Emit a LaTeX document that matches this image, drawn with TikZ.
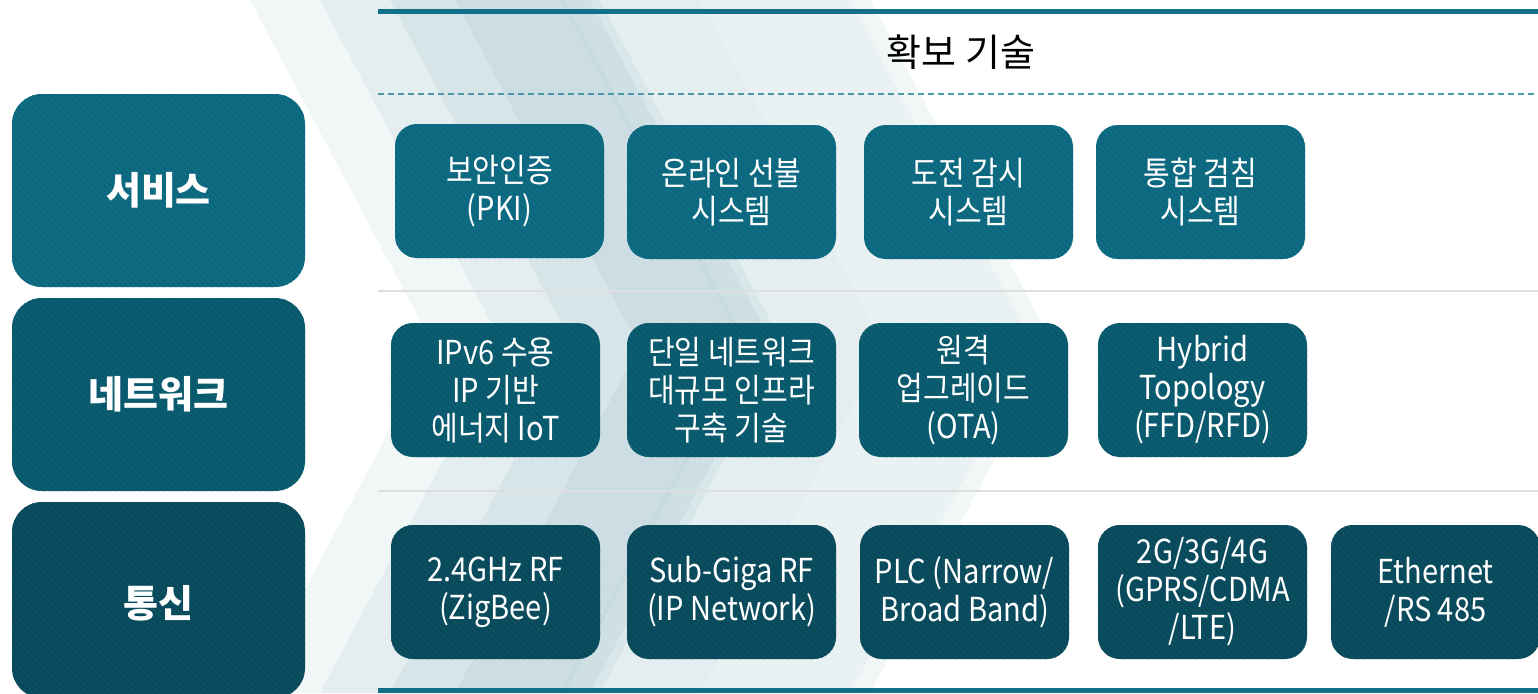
\documentclass[tikz,border=0pt]{standalone}
\usepackage{fontspec}
\setmainfont{Noto Sans CJK KR}
\newfontfamily\krn[FakeStretch=0.88]{Noto Sans CJK KR}
\usetikzlibrary{patterns}
\definecolor{topline}{HTML}{10708A}
\definecolor{dashc}{HTML}{4A98A8}
\definecolor{sepc}{HTML}{DEDEDE}
\definecolor{rowA}{HTML}{0E6C84}
\definecolor{rowAd}{HTML}{0C6277}
\definecolor{rowB}{HTML}{0B5D71}
\definecolor{rowBd}{HTML}{0A5366}
\definecolor{rowC}{HTML}{0A4E5F}
\definecolor{rowCd}{HTML}{084556}
\definecolor{stripe}{HTML}{B3CED6}
\newcommand\chevron[3]{\fill[stripe,opacity=#3] (#1,0) -- ({#1+#2},0) -- ({#1+#2+184},346.5) -- ({#1+#2},693) -- (#1,693) -- ({#1+184},346.5) -- cycle;}
\tikzset{
  catbox/.style={rounded corners=15pt, minimum width=146.5pt, minimum height=96.5pt,
    text=white, inner sep=0pt, font=\bfseries\fontsize{19pt}{23pt}\selectfont},
  techbox/.style={rounded corners=11pt, minimum width=104.5pt, minimum height=67pt,
    text=white, align=center, inner sep=0pt, font=\krn\fontsize{16.5pt}{19pt}\selectfont},
  rowa/.style={fill=rowA, postaction={pattern=north west lines, pattern color=rowAd}},
  rowb/.style={fill=rowB, postaction={pattern=north west lines, pattern color=rowBd}},
  rowc/.style={fill=rowC, postaction={pattern=north west lines, pattern color=rowCd}},
}
\begin{document}
\begin{tikzpicture}[x=0.5pt,y=-0.5pt]
\useasboundingbox (0,0) rectangle (1538,693);
\fill[white] (0,0) rectangle (1538,693);
% background chevrons
\chevron{250}{620}{0.18}
\chevron{320}{380}{0.2}
\chevron{390}{200}{0.25}
\chevron{455}{110}{0.3}
\chevron{560}{40}{0.2}
\chevron{700}{150}{0.12}
% header lines
\draw[topline, line width=2.5pt] (378,11) -- (1545,11);
\node[font=\fontsize{19pt}{23pt}\selectfont, text=black] (hdr) at (961,52) {확보 기술};
\draw[dashc, line width=0.7pt, dash pattern=on 3pt off 2pt] (378,94) -- (1545,94);
\draw[sepc, line width=1pt] (378,291) -- (1545,291);
\draw[sepc, line width=1pt] (378,491) -- (1545,491);
\draw[topline, line width=2.5pt] (378,690) -- (1545,690);
% category boxes
\node[catbox, rowa] (svc) at (158.5,190.5) {서비스};
\node[catbox, rowb] (net) at (158.5,394.5) {네트워크};
\node[catbox, rowc, minimum height=98pt] (com) at (158.5,600) {};
\node[text=white, font=\bfseries\fontsize{19pt}{23pt}\selectfont] (comt) at (158.5,603) {통신};
% row 1
\node[techbox, rowa] (a1) at (499.5,191) {보안인증\\(PKI)};
\node[techbox, rowa] (a2) at (731.5,192) {온라인 선불\\시스템};
\node[techbox, rowa] (a3) at (968.5,192) {도전 감시\\시스템};
\node[techbox, rowa] (a4) at (1200.5,192) {통합 검침\\시스템};
% row 2
\node[techbox, rowb] (b1) at (495.5,390) {IPv6 수용\\IP 기반\\에너지 IoT};
\node[techbox, rowb] (b2) at (731.5,390) {단일 네트워크\\대규모 인프라\\구축 기술};
\node[techbox, rowb] (b3) at (963.5,390) {원격\\업그레이드\\(OTA)};
\node[techbox, rowb] (b4) at (1202.5,390) {Hybrid\\Topology\\(FFD/RFD)};
% row 3
\node[techbox, rowc] (c1) at (495.5,592) {2.4GHz RF\\(ZigBee)};
\node[techbox, rowc] (c2) at (731.5,592) {Sub-Giga RF\\(IP Network)};
\node[techbox, rowc] (c3) at (964.5,592) {PLC (Narrow/\\Broad Band)};
\node[techbox, rowc] (c4) at (1202.5,592) {2G/3G/4G\\(GPRS/CDMA\\/LTE)};
\node[techbox, rowc] (c5) at (1435.5,592) {Ethernet\\/RS 485};
\end{tikzpicture}
\end{document}
